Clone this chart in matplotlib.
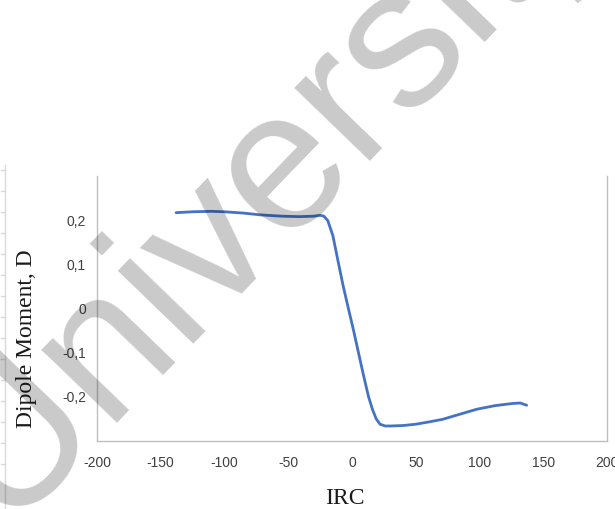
import matplotlib.pyplot as plt
from matplotlib.lines import Line2D

# --- Data: dipole moment along the IRC path ---
irc = [-138, -125, -110, -100, -85, -72, -55, -41, -30, -25, -22, -19, -15,
       -11, -7, -3, 1, 5, 9, 13, 16, 19, 22, 26, 30, 40, 50, 60, 71, 85,
       98, 112, 126, 132, 137]
dipole = [0.217, 0.219, 0.220, 0.219, 0.216, 0.212, 0.209, 0.208, 0.209,
          0.211, 0.209, 0.199, 0.165, 0.108, 0.052, 0.002, -0.047, -0.099,
          -0.151, -0.200, -0.228, -0.250, -0.262, -0.266, -0.266, -0.265,
          -0.262, -0.257, -0.251, -0.239, -0.228, -0.220, -0.215, -0.214,
          -0.219]

x_ticks = [-200, -150, -100, -50, 0, 50, 100, 150, 200]
y_ticks = [-0.2, -0.1, 0, 0.1, 0.2]
y_tick_labels = ["-0,2", "-0,1", "0", "0,1", "0,2"]

W, H = 615, 509
fig = plt.figure(figsize=(W / 100, H / 100), dpi=100)
fig.patch.set_facecolor("white")

ax = fig.add_axes([97 / W, (H - 441) / H, 510 / W, (441 - 176) / H])
ax.plot(irc, dipole, color="#4472C4", lw=2.0, solid_capstyle="round")

ax.set_xlim(-200, 200)
ax.set_ylim(-0.3, 0.3)
ax.set_xticks(x_ticks)
ax.set_xticklabels([str(v) for v in x_ticks])
ax.set_yticks(y_ticks)
ax.set_yticklabels(y_tick_labels)
ax.tick_params(length=0, labelsize=10, labelcolor="#404040",
               labelfontfamily="Liberation Sans")
ax.tick_params(axis="x", pad=11)
ax.tick_params(axis="y", pad=8)

for side in ["left", "bottom", "right"]:
    ax.spines[side].set_color("#bfbfbf")
    ax.spines[side].set_linewidth(1.0)
ax.spines["top"].set_visible(False)

# axis titles
fig.text(27 / W, 1 - 339 / H, "Dipole Moment, D", rotation=90,
         ha="center", va="center", fontsize=17, family="Liberation Serif",
         color="#1a1a1a")
fig.text(345 / W, 1 - 498 / H, "IRC", ha="center", va="center",
         fontsize=17, family="Liberation Serif", color="#1a1a1a")

# faint ruler at the left edge
fig.add_artist(Line2D([5 / W, 5 / W], [1 - 165 / H, 0], transform=fig.transFigure,
                      color="#d9d9d9", lw=1))
for yy in range(170, 470, 21):
    fig.add_artist(Line2D([1 / W, 5 / W], [1 - yy / H, 1 - yy / H],
                          transform=fig.transFigure, color="#d9d9d9", lw=1))

# watermark
fig.text(9 / W, 1 - 536 / H, "University of Malaya", rotation=46,
         rotation_mode="anchor", ha="left", va="baseline", fontsize=143,
         family="Liberation Sans", color="black", alpha=0.21, zorder=10)

fig.savefig("out.png", dpi=100)
